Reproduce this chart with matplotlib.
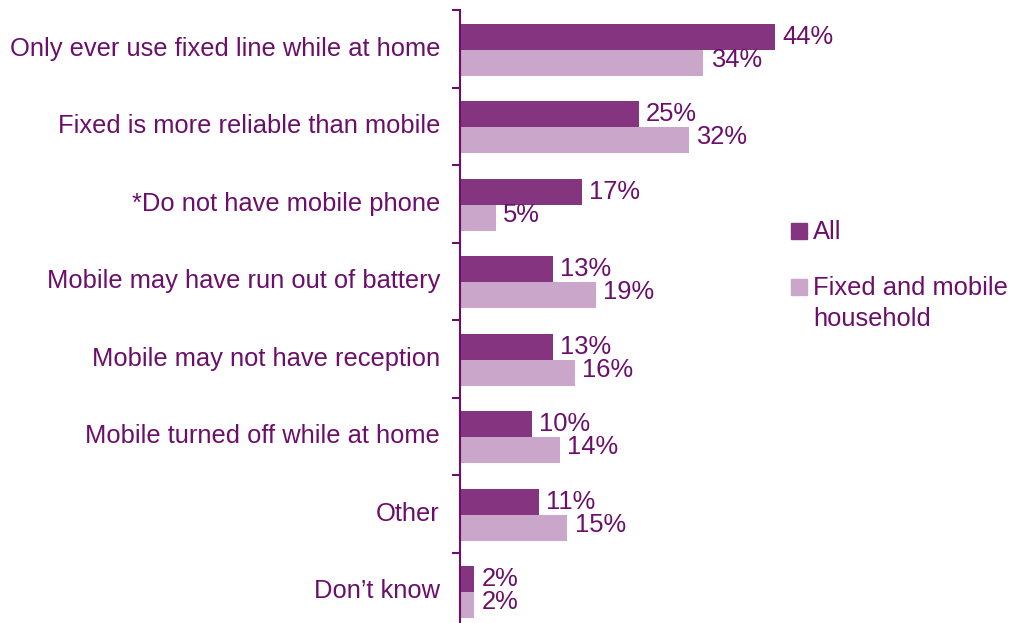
import matplotlib
matplotlib.use("Agg")
import matplotlib.pyplot as plt
from matplotlib.patches import Rectangle

categories = [
    "Only ever use fixed line while at home",
    "Fixed is more reliable than mobile",
    "*Do not have mobile phone",
    "Mobile may have run out of battery",
    "Mobile may not have reception",
    "Mobile turned off while at home",
    "Other",
    "Don\u2019t know",
]
all_vals = [44, 25, 17, 13, 13, 10, 11, 2]
fixed_mobile_vals = [34, 32, 5, 19, 16, 14, 15, 2]
series_names = ["All", "Fixed and mobile\nhousehold"]

C_ALL = "#853580"
C_FM = "#C9A6CA"
C_TEXT = "#6B0F6B"
FS = 18.4

plt.rcParams["font.family"] = ["Liberation Sans", "DejaVu Sans"]

W, H = 1012, 623
fig = plt.figure(figsize=(W / 100, H / 100), dpi=100)
ax_left = 460 / W
ax_top_px = 10
cat_px = 77.5
ax_h_px = cat_px * len(categories)
ax_bottom = (H - ax_top_px - ax_h_px) / H
ax = fig.add_axes([ax_left, ax_bottom, (W - 460) / W, ax_h_px / H])
px_per_pct = 7.16
ax.set_xlim(0, (W - 460) / px_per_pct)
ax.set_ylim(len(categories), 0)

bh = 0.335
for i, (a, f) in enumerate(zip(all_vals, fixed_mobile_vals)):
    ya = i + 0.348
    yf = i + 0.683
    ax.barh(ya, a, height=bh, color=C_ALL, zorder=2)
    ax.barh(yf, f, height=bh, color=C_FM, zorder=2)
    ax.text(a + 1.0, ya + 0.09, f"{a}%", color=C_TEXT, fontsize=FS, va="baseline", ha="left")
    ax.text(f + 1.0, yf + 0.048, f"{f}%", color=C_TEXT, fontsize=FS, va="baseline", ha="left")

for s in ["top", "right", "bottom"]:
    ax.spines[s].set_visible(False)
ax.spines["left"].set_color(C_TEXT)
ax.spines["left"].set_linewidth(1.5)
ax.set_xticks([])
ax.set_yticks(range(len(categories) + 1))
ax.set_yticklabels([])
ax.tick_params(axis="y", direction="out", length=6, width=1.5, color=C_TEXT)

for i, c in enumerate(categories):
    fig.text(440 / W, 1 - (ax_top_px + cat_px * (i + 0.5) + 7) / H, c,
             color=C_TEXT, fontsize=FS, ha="right", va="baseline")

# legend
sq_y = [231, 287]
baselines = [[239], [295, 326]]
for yc, col, name, bls in zip(sq_y, [C_ALL, C_FM], series_names, baselines):
    fig.patches.append(Rectangle((791 / W, 1 - (yc + 8) / H), 16 / W, 16 / H,
                                 transform=fig.transFigure, color=col, figure=fig))
    for line, bl in zip(name.split("\n"), bls):
        fig.text(813 / W, 1 - bl / H, line, color=C_TEXT, fontsize=FS,
                 ha="left", va="baseline")

fig.savefig("out.png", dpi=100)
